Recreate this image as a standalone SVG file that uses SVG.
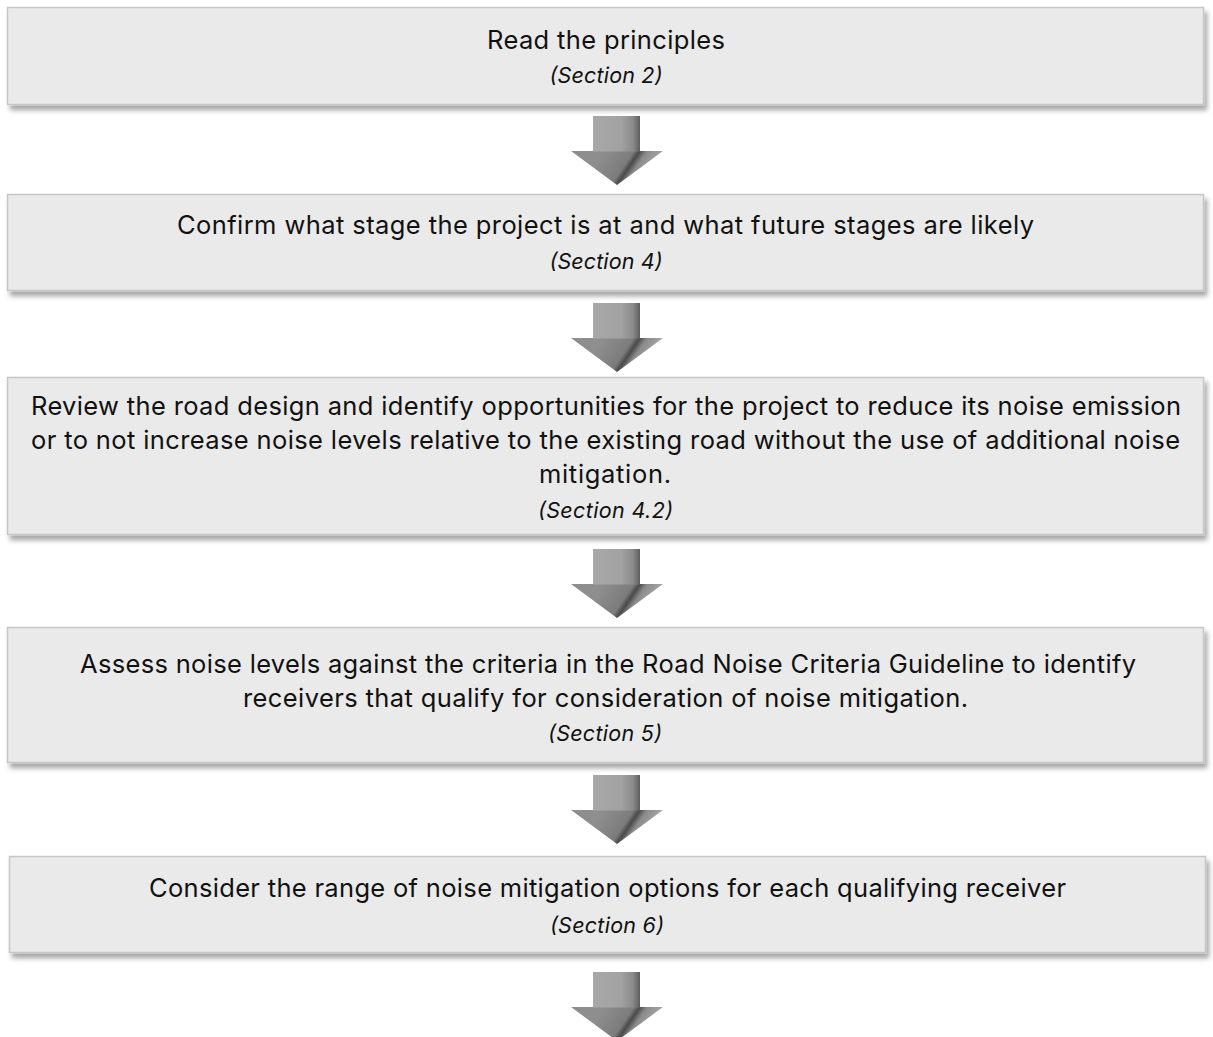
<svg xmlns="http://www.w3.org/2000/svg" xmlns:xlink="http://www.w3.org/1999/xlink" width="1213" height="1037" viewBox="0 0 1213 1037">
<defs>
<filter id="sh" x="-2%" y="-10%" width="104%" height="130%">
<feDropShadow dx="3" dy="5" stdDeviation="2.5" flood-color="#000" flood-opacity="0.35"/>
</filter>
<linearGradient id="gShaft" x1="0" y1="0" x2="1" y2="0">
<stop offset="0" stop-color="#a8a8a8"/>
<stop offset="0.6" stop-color="#a2a2a2"/>
<stop offset="0.85" stop-color="#8a8a8a"/>
<stop offset="1" stop-color="#5e5e5e"/>
</linearGradient>
<linearGradient id="gHead" gradientUnits="userSpaceOnUse" x1="-2" y1="18" x2="39.6" y2="46.2">
<stop offset="0" stop-color="#8e8e8e"/>
<stop offset="0.5" stop-color="#7c7c7c"/>
<stop offset="0.6" stop-color="#4a4a4a"/>
<stop offset="0.72" stop-color="#8a8a8a"/>
<stop offset="1" stop-color="#a8a8a8"/>
</linearGradient>
<g id="arrow">
<polygon points="-46,35 46,35 0,69" fill="url(#gHead)"/>
<rect x="-24" y="0" width="47" height="35.5" fill="url(#gShaft)"/>
</g>
</defs>
<style>
.box{fill:#eaeaea;stroke:#c6c6c6;stroke-width:1.5;filter:url(#sh)}
.t{font-family:Inter,"Liberation Sans",sans-serif;font-size:25.5px;fill:#111;text-anchor:middle}
.s{font-family:Inter,"Liberation Sans",sans-serif;font-size:21.5px;font-style:italic;fill:#111;text-anchor:middle}
</style>
<g id="connectors">
<use xlink:href="#arrow" x="617" y="116"/>
<use xlink:href="#arrow" x="617" y="303"/>
<use xlink:href="#arrow" x="617" y="549"/>
<use xlink:href="#arrow" x="617" y="775"/>
<use xlink:href="#arrow" x="617" y="972"/>
</g>
<g id="n1">
<rect class="box" x="7.5" y="7.5" width="1196" height="97"/>
<text class="t" x="606" y="48.5" textLength="238" lengthAdjust="spacing">Read the principles</text>
<text class="s" x="606" y="82.5" textLength="113" lengthAdjust="spacing">(Section 2)</text>
</g>
<g id="n2">
<rect class="box" x="7.5" y="194.5" width="1196" height="96"/>
<text class="t" x="605.5" y="233.5" textLength="857" lengthAdjust="spacing">Confirm what stage the project is at and what future stages are likely</text>
<text class="s" x="606" y="268.5" textLength="113" lengthAdjust="spacing">(Section 4)</text>
</g>
<g id="n3">
<rect class="box" x="7.5" y="377.5" width="1196" height="157"/>
<text class="t" x="606" y="414.5" textLength="1150" lengthAdjust="spacing">Review the road design and identify opportunities for the project to reduce its noise emission</text>
<text class="t" x="605.5" y="448.5" textLength="1149" lengthAdjust="spacing">or to not increase noise levels relative to the existing road without the use of additional noise</text>
<text class="t" x="605" y="482.5" textLength="132" lengthAdjust="spacing">mitigation.</text>
<text class="s" x="605.5" y="517.5" textLength="135" lengthAdjust="spacing">(Section 4.2)</text>
</g>
<g id="n4">
<rect class="box" x="7.5" y="627.5" width="1196" height="135"/>
<text class="t" x="608" y="672.5" textLength="1056" lengthAdjust="spacing">Assess noise levels against the criteria in the Road Noise Criteria Guideline to identify</text>
<text class="t" x="605.5" y="706.5" textLength="725" lengthAdjust="spacing">receivers that qualify for consideration of noise mitigation.</text>
<text class="s" x="605" y="740.5" textLength="114" lengthAdjust="spacing">(Section 5)</text>
</g>
<g id="n5">
<rect class="box" x="9.5" y="856.5" width="1196" height="96"/>
<text class="t" x="607.5" y="896.5" textLength="917" lengthAdjust="spacing">Consider the range of noise mitigation options for each qualifying receiver</text>
<text class="s" x="607" y="932.5" textLength="114" lengthAdjust="spacing">(Section 6)</text>
</g>
</svg>
